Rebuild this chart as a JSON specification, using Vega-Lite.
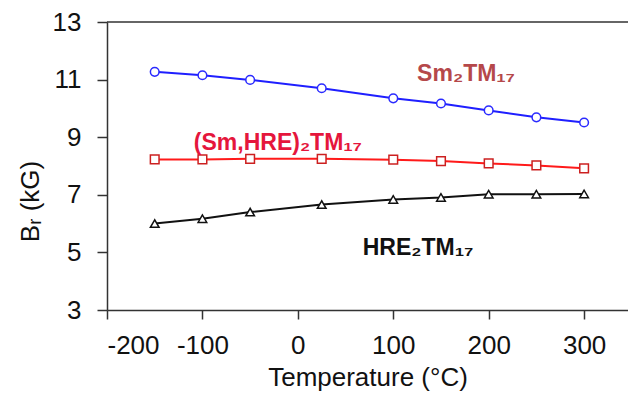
{
  "$schema": "https://vega.github.io/schema/vega-lite/v6.json",
  "width": 521,
  "height": 288,
  "autosize": {"type": "none"},
  "padding": {"left": 107, "top": 22, "right": 0, "bottom": 94},
  "config": {
    "view": {"stroke": null},
    "font": "Liberation Sans",
    "axis": {
      "domainColor": "#333333",
      "domainWidth": 1.5,
      "tickColor": "#333333",
      "tickWidth": 1.5,
      "grid": false,
      "labelFont": "Liberation Sans",
      "labelFontSize": 26,
      "labelColor": "#111111",
      "titleFont": "Liberation Sans",
      "titleFontSize": 26,
      "titleFontWeight": "normal",
      "titleColor": "#111111"
    }
  },
  "datasets": {
    "curves": [
      {"series": "Sm2TM17", "t": -150, "br": 11.27},
      {"series": "Sm2TM17", "t": -100, "br": 11.15},
      {"series": "Sm2TM17", "t": -50, "br": 10.99},
      {"series": "Sm2TM17", "t": 25, "br": 10.70},
      {"series": "Sm2TM17", "t": 100, "br": 10.35},
      {"series": "Sm2TM17", "t": 150, "br": 10.17},
      {"series": "Sm2TM17", "t": 200, "br": 9.93},
      {"series": "Sm2TM17", "t": 250, "br": 9.69},
      {"series": "Sm2TM17", "t": 300, "br": 9.51},
      {"series": "(Sm,HRE)2TM17", "t": -150, "br": 8.23},
      {"series": "(Sm,HRE)2TM17", "t": -100, "br": 8.23},
      {"series": "(Sm,HRE)2TM17", "t": -50, "br": 8.25},
      {"series": "(Sm,HRE)2TM17", "t": 25, "br": 8.25},
      {"series": "(Sm,HRE)2TM17", "t": 100, "br": 8.22},
      {"series": "(Sm,HRE)2TM17", "t": 150, "br": 8.17},
      {"series": "(Sm,HRE)2TM17", "t": 200, "br": 8.09},
      {"series": "(Sm,HRE)2TM17", "t": 250, "br": 8.02},
      {"series": "(Sm,HRE)2TM17", "t": 300, "br": 7.92},
      {"series": "HRE2TM17", "t": -150, "br": 6.00},
      {"series": "HRE2TM17", "t": -100, "br": 6.17},
      {"series": "HRE2TM17", "t": -50, "br": 6.40},
      {"series": "HRE2TM17", "t": 25, "br": 6.66},
      {"series": "HRE2TM17", "t": 100, "br": 6.84},
      {"series": "HRE2TM17", "t": 150, "br": 6.91},
      {"series": "HRE2TM17", "t": 200, "br": 7.02},
      {"series": "HRE2TM17", "t": 250, "br": 7.02},
      {"series": "HRE2TM17", "t": 300, "br": 7.03}
    ],
    "labels": [
      {"lab": "Sm₂TM₁₇", "t": 125, "br": 10.96},
      {"lab": "(Sm,HRE)₂TM₁₇", "t": -109, "br": 8.56},
      {"lab": "HRE₂TM₁₇", "t": 68, "br": 4.91}
    ],
    "frame": [{"br": 13}]
  },
  "layer": [
    {
      "data": {"name": "frame"},
      "mark": {"type": "rule", "color": "#333333", "strokeWidth": 1.5},
      "encoding": {
        "y": {"field": "br", "type": "quantitative", "scale": {"domain": [3, 13]}}
      }
    },
    {
      "data": {"name": "curves"},
      "mark": {"type": "line", "strokeWidth": 2},
      "encoding": {
        "x": {
          "field": "t", "type": "quantitative",
          "scale": {"domain": [-200, 346], "nice": false, "zero": false},
          "axis": {
            "values": [-200, -100, 0, 100, 200, 300],
            "labelExpr": "replace(datum.label, '−', '-')",
            "tickSize": 9,
            "labelPadding": 34,
            "labelBaseline": "alphabetic",
            "title": "Temperature (°C)",
            "titleBaseline": "alphabetic",
            "titleY": 75
          }
        },
        "y": {
          "field": "br", "type": "quantitative",
          "scale": {"domain": [3, 13], "nice": false, "zero": false},
          "axis": {
            "values": [3, 5, 7, 9, 11, 13],
            "tickSize": 10,
            "labelPadding": 16,
            "title": "Bᵣ (kG)",
            "titleX": -77,
            "titleY": 179,
            "titleAngle": -90,
            "titleAlign": "center",
            "titleBaseline": "middle"
          }
        },
        "color": {
          "field": "series", "type": "nominal",
          "scale": {"domain": ["Sm2TM17", "(Sm,HRE)2TM17", "HRE2TM17"], "range": ["#1f1fff", "#ff1a1a", "#111111"]},
          "legend": null
        }
      }
    },
    {
      "data": {"name": "curves"},
      "mark": {"type": "point", "filled": false, "fill": "white", "fillOpacity": 1, "opacity": 1, "strokeWidth": 1.5},
      "encoding": {
        "x": {"field": "t", "type": "quantitative"},
        "y": {"field": "br", "type": "quantitative"},
        "stroke": {
          "field": "series", "type": "nominal",
          "scale": {"domain": ["Sm2TM17", "(Sm,HRE)2TM17", "HRE2TM17"], "range": ["#2a2aff", "#cc2020", "#111111"]},
          "legend": null
        },
        "shape": {
          "field": "series", "type": "nominal",
          "scale": {"domain": ["Sm2TM17", "(Sm,HRE)2TM17", "HRE2TM17"], "range": ["circle", "square", "triangle-up"]},
          "legend": null
        },
        "size": {"value": 75}
      }
    },
    {
      "data": {"name": "labels"},
      "mark": {"type": "text", "align": "left", "baseline": "alphabetic", "fontSize": 23, "fontWeight": "bold", "font": "Liberation Sans"},
      "encoding": {
        "x": {"field": "t", "type": "quantitative"},
        "y": {"field": "br", "type": "quantitative"},
        "text": {"field": "lab"},
        "color": {
          "field": "lab", "type": "nominal",
          "scale": {"domain": ["Sm₂TM₁₇", "(Sm,HRE)₂TM₁₇", "HRE₂TM₁₇"], "range": ["#b5484a", "#e5163c", "#111111"]},
          "legend": null
        }
      }
    }
  ],
  "resolve": {"scale": {"color": "independent", "stroke": "independent"}}
}
